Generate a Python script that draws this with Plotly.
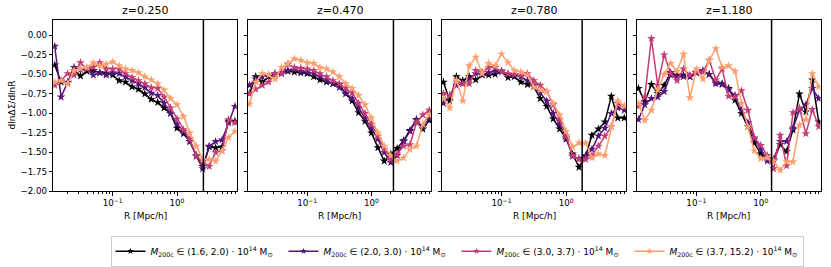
import plotly.graph_objects as go

# ---------------- data ----------------
R = [0.0126, 0.0158, 0.0200, 0.0251, 0.0316, 0.0398, 0.0501, 0.0631, 0.0794,
     0.100, 0.126, 0.158, 0.200, 0.251, 0.316, 0.398, 0.501, 0.631, 0.794,
     1.00, 1.26, 1.58, 2.00, 2.51, 3.16, 3.98, 5.01, 6.31, 7.94]

redshifts = ["z=0.250", "z=0.470", "z=0.780", "z=1.180"]
r_vline = [2.57, 2.20, 1.77, 1.47]

mass_bins = ["(1.6, 2.0)", "(2.0, 3.0)", "(3.0, 3.7)", "(3.7, 15.2)"]

# panel 1 : z=0.250
p1_bin1 = [-0.38, -0.60, -0.61, -0.45, -0.52, -0.46, -0.45, -0.48, -0.49, -0.51, -0.58, -0.60, -0.66, -0.69, -0.75, -0.82, -0.86, -0.93, -1.00, -1.19, -1.26, -1.36, -1.54, -1.68, -1.43, -1.44, -1.43, -1.10, -1.10]
p1_bin2 = [-0.14, -0.79, -0.60, -0.41, -0.44, -0.43, -0.51, -0.48, -0.51, -0.48, -0.49, -0.53, -0.58, -0.62, -0.67, -0.74, -0.77, -0.87, -1.00, -1.14, -1.23, -1.36, -1.55, -1.71, -1.42, -1.36, -1.34, -1.12, -0.91]
p1_bin3 = [-0.64, -0.58, -0.49, -0.51, -0.35, -0.43, -0.41, -0.35, -0.43, -0.43, -0.43, -0.49, -0.54, -0.58, -0.62, -0.67, -0.68, -0.79, -0.93, -1.07, -1.21, -1.33, -1.54, -1.62, -1.68, -1.50, -1.48, -1.08, -1.12]
p1_bin4 = [-0.60, -0.58, -0.62, -0.45, -0.43, -0.41, -0.35, -0.39, -0.37, -0.34, -0.39, -0.43, -0.45, -0.48, -0.53, -0.57, -0.62, -0.70, -0.81, -0.89, -1.04, -1.25, -1.42, -1.59, -1.59, -1.61, -1.48, -1.31, -1.23]

# panel 2 : z=0.470
p2_bin1 = [-0.745, -0.53, -0.60, -0.53, -0.51, -0.49, -0.46, -0.47, -0.48, -0.49, -0.53, -0.57, -0.60, -0.62, -0.63, -0.75, -0.84, -0.99, -1.10, -1.25, -1.44, -1.61, -1.52, -1.45, -1.35, -1.22, -1.08, -1.20, -1.09]
p2_bin2 = [-0.64, -0.56, -0.53, -0.51, -0.49, -0.48, -0.45, -0.44, -0.46, -0.47, -0.49, -0.53, -0.58, -0.62, -0.67, -0.74, -0.81, -0.93, -1.06, -1.19, -1.33, -1.50, -1.63, -1.54, -1.36, -1.23, -1.08, -1.17, -1.07]
p2_bin3 = [-0.745, -0.69, -0.64, -0.60, -0.49, -0.49, -0.37, -0.41, -0.42, -0.43, -0.45, -0.49, -0.53, -0.58, -0.62, -0.68, -0.74, -0.87, -1.00, -1.14, -1.29, -1.46, -1.59, -1.52, -1.42, -1.40, -1.12, -1.02, -0.96]
p2_bin4 = [-0.88, -0.60, -0.49, -0.51, -0.56, -0.41, -0.36, -0.30, -0.32, -0.35, -0.36, -0.41, -0.43, -0.47, -0.53, -0.62, -0.68, -0.77, -0.89, -1.06, -1.25, -1.42, -1.54, -1.61, -1.57, -1.46, -1.42, -1.14, -1.02]

# panel 3 : z=0.780
p3_bin1 = [-0.60, -0.84, -0.53, -0.58, -0.53, -0.57, -0.51, -0.51, -0.50, -0.46, -0.54, -0.53, -0.60, -0.63, -0.66, -0.81, -0.91, -1.07, -1.20, -1.33, -1.52, -1.69, -1.55, -1.28, -1.20, -1.11, -0.78, -1.06, -1.06]
p3_bin2 = [-0.87, -0.77, -0.64, -0.62, -0.56, -0.49, -0.50, -0.48, -0.46, -0.46, -0.50, -0.51, -0.53, -0.58, -0.64, -0.74, -0.84, -1.00, -1.14, -1.31, -1.55, -1.58, -1.54, -1.46, -1.29, -1.19, -1.00, -0.93, -0.96]
p3_bin3 = [-0.745, -0.77, -0.60, -0.62, -0.62, -0.45, -0.47, -0.41, -0.41, -0.47, -0.49, -0.50, -0.51, -0.49, -0.58, -0.64, -0.72, -0.89, -1.08, -1.29, -1.54, -1.59, -1.59, -1.54, -1.42, -1.29, -1.17, -0.87, -0.91]
p3_bin4 = [-0.81, -0.93, -0.57, -0.84, -0.39, -0.28, -0.49, -0.36, -0.39, -0.24, -0.35, -0.45, -0.47, -0.51, -0.66, -0.70, -0.72, -0.87, -1.02, -1.23, -1.43, -1.38, -1.38, -1.57, -1.52, -1.54, -1.17, -0.84, -0.91]

# panel 4 : z=1.180
p4_bin1 = [-0.68, -0.85, -0.63, -0.745, -0.64, -0.48, -0.51, -0.51, -0.53, -0.48, -0.46, -0.50, -0.60, -0.62, -0.68, -0.83, -1.00, -1.17, -1.38, -1.52, -1.58, -1.61, -1.40, -1.49, -1.21, -0.75, -0.98, -0.57, -1.11]
p4_bin2 = [-1.08, -0.89, -0.81, -0.79, -0.72, -0.51, -0.53, -0.53, -0.53, -0.48, -0.45, -0.50, -0.62, -0.63, -0.70, -0.77, -0.96, -1.12, -1.33, -1.46, -1.61, -1.59, -1.36, -1.36, -1.19, -0.96, -0.89, -0.68, -0.81]
p4_bin3 = [-0.91, -0.79, -0.04, -0.64, -0.25, -0.49, -0.58, -0.43, -0.51, -0.47, -0.47, -0.32, -0.57, -0.43, -0.78, -0.79, -0.71, -0.96, -1.31, -1.41, -1.54, -1.71, -1.28, -1.67, -0.99, -0.93, -1.26, -0.95, -1.17]
p4_bin4 = [-0.87, -1.09, -0.96, -0.70, -0.50, -0.36, -0.46, -0.24, -0.80, -0.43, -0.56, -0.32, -0.17, -0.41, -0.39, -0.46, -0.87, -1.17, -1.48, -1.58, -1.57, -1.61, -1.73, -1.62, -1.62, -1.15, -1.08, -0.49, -0.66]

panels = [
    [p1_bin1, p1_bin2, p1_bin3, p1_bin4],
    [p2_bin1, p2_bin2, p2_bin3, p2_bin4],
    [p3_bin1, p3_bin2, p3_bin3, p3_bin4],
    [p4_bin1, p4_bin2, p4_bin3, p4_bin4],
]

y_ticks = [0.0, -0.25, -0.5, -0.75, -1.0, -1.25, -1.5, -1.75, -2.0]
y_ticktext = ["0.00", "\u22120.25", "\u22120.50", "\u22120.75", "\u22121.00",
              "\u22121.25", "\u22121.50", "\u22121.75", "\u22122.00"]
x_ticks = [0.1, 1.0]
x_ticktext = ["10<sup>\u22121</sup>", "10<sup>0</sup>"]
x_minor = [0.02, 0.03, 0.04, 0.05, 0.06, 0.07, 0.08, 0.09,
           0.2, 0.3, 0.4, 0.5, 0.6, 0.7, 0.8, 0.9,
           2, 3, 4, 5, 6, 7, 8, 9]

Y_RANGE = [-2.0, 0.2]
X_RANGE_LOG = [-1.922, 0.927]

# ---------------- style ----------------
colors = ["#000004", "#56147d", "#c43c75", "#fe9f6d"]
FONT = "DejaVu Sans"
W, H = 831, 267
x_px = [(53.3, 236.7), (248.0, 431.0), (442.0, 626.0), (637.0, 820.5)]
y_px = (20.0, 194.3)

fig = go.Figure()

for p in range(4):
    xa = "x" if p == 0 else f"x{p+1}"
    ya = "y" if p == 0 else f"y{p+1}"
    for s in range(4):
        fig.add_trace(go.Scatter(
            x=R, y=panels[p][s], xaxis=xa, yaxis=ya,
            mode="lines+markers", showlegend=False,
            legendgroup=f"g{s}",
            line=dict(color=colors[s], width=1.5),
            marker=dict(symbol="star", size=6.5, color=colors[s],
                        line=dict(width=0)),
        ))
    fig.add_trace(go.Scatter(
        x=[r_vline[p], r_vline[p]], y=Y_RANGE, xaxis=xa, yaxis=ya,
        mode="lines", line=dict(color="black", width=1.5),
        showlegend=False, hoverinfo="skip"))

# legend-only entries (smaller star as in the reference legend)
for s in range(4):
    name = ("<i>M</i><sub>200c</sub> \u2208 " + mass_bins[s] +
            " \u00b7 10<sup>14</sup> M<sub>\u2299</sub>")
    fig.add_trace(go.Scatter(
        x=[None], y=[None], xaxis="x", yaxis="y",
        mode="lines+markers", name=name, legendgroup=f"g{s}",
        line=dict(color=colors[s], width=1.5),
        marker=dict(symbol="star", size=5, color=colors[s],
                    line=dict(width=0)),
    ))

layout = dict(
    width=W, height=H,
    margin=dict(l=0, r=0, t=0, b=0),
    paper_bgcolor="white", plot_bgcolor="white",
    font=dict(family=FONT, color="black", size=9),
    showlegend=True,
    legend=dict(orientation="h", x=457 / W, xanchor="center",
                y=1 - 255 / H, yanchor="middle",
                bordercolor="#cccccc", borderwidth=1, bgcolor="white",
                font=dict(size=9, family=FONT), itemwidth=30,
                entrywidth=128),
)

annotations = []
for p in range(4):
    xk = "xaxis" if p == 0 else f"xaxis{p+1}"
    yk = "yaxis" if p == 0 else f"yaxis{p+1}"
    ya = "y" if p == 0 else f"y{p+1}"
    xa = "x" if p == 0 else f"x{p+1}"
    x0, x1 = x_px[p]
    layout[xk] = dict(
        type="log", range=X_RANGE_LOG, domain=[x0 / W, x1 / W], anchor=ya,
        showline=True, mirror=True, linecolor="black", linewidth=1,
        ticks="outside", ticklen=3.5, tickwidth=0.8, tickcolor="black",
        tickvals=x_ticks, ticktext=x_ticktext, tickfont=dict(size=8.7),
        minor=dict(tickvals=x_minor, ticks="outside", ticklen=2,
                   tickwidth=0.6, tickcolor="black", showgrid=False),
        showgrid=False, zeroline=False,
    )
    layout[yk] = dict(
        range=Y_RANGE, domain=[1 - y_px[1] / H, 1 - y_px[0] / H], anchor=xa,
        showline=True, mirror=True, linecolor="black", linewidth=1,
        ticks="outside", ticklen=3.5, tickwidth=0.8, tickcolor="black",
        tickvals=y_ticks, ticktext=y_ticktext, showticklabels=(p == 0),
        tickfont=dict(size=8.7),
        showgrid=False, zeroline=False,
    )
    xc = (x0 + x1) / 2 / W
    annotations.append(dict(text=redshifts[p], x=xc, y=1 - 11 / H,
                            xref="paper", yref="paper", showarrow=False,
                            font=dict(size=11), xanchor="center",
                            yanchor="middle"))
    annotations.append(dict(text="R [Mpc/h]", x=xc, y=1 - 219 / H,
                            xref="paper", yref="paper", showarrow=False,
                            font=dict(size=9), xanchor="center",
                            yanchor="middle"))

annotations.append(dict(text="dln\u0394\u03a3/dlnR", x=12 / W,
                        y=1 - 107 / H, xref="paper", yref="paper",
                        showarrow=False, textangle=-90,
                        font=dict(size=9), xanchor="center",
                        yanchor="middle"))
layout["annotations"] = annotations

fig.update_layout(**layout)

fig.write_html("out.html",
               config={"displayModeBar": False},
               post_script="document.body.style.margin='0';")
